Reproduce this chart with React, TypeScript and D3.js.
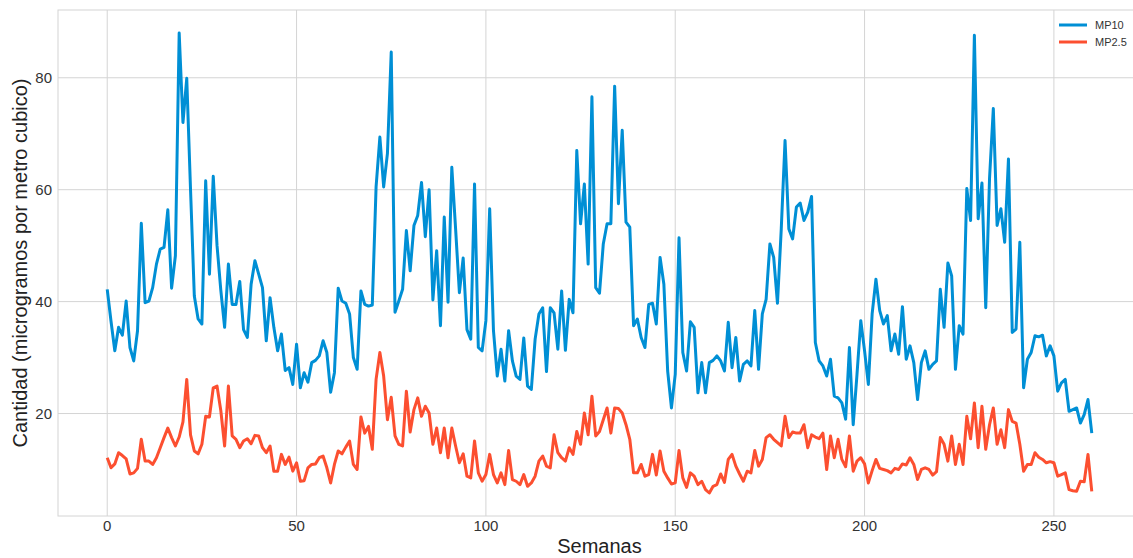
import * as d3 from 'd3';

const WIDTH = 1133;
const HEIGHT = 558;

// Weekly concentrations (weeks 0..260)
const mp10 = [
  42.2, 36.5, 31.2, 35.4, 34, 40.1, 31.8, 29.4, 34.8, 54,
  39.8, 40.1, 42.5, 46.7, 49.4, 49.7, 56.4, 42.4, 48.2, 88,
  72, 79.9, 60, 41, 36.9, 36, 61.6, 44.9, 62.4, 50,
  42, 35.4, 46.7, 39.5, 39.5, 43.6, 35, 33.6, 43.1, 47.3,
  44.9, 42.5, 33, 40.7, 35.4, 31.2, 34.2, 27.7, 28.2, 25.2,
  32.4, 24.6, 27.3, 25.6, 29.1, 29.5, 30.3, 33, 30.9, 23.8,
  27.3, 42.4, 40.1, 39.7, 37.8, 30, 27.9, 41.9, 39.5, 39.2,
  39.4, 60.5, 69.4, 60.5, 66.5, 84.6, 38.1, 40.1, 42.2, 52.7,
  45.5, 53.6, 55.4, 61.3, 51.6, 60, 40.3, 49.1, 35.7, 55.1,
  39.9, 64, 53, 41.6, 47.8, 35, 33.3, 61, 31.8, 31.2,
  36.6, 56.6, 34.8, 26.7, 31.5, 25.8, 34.8, 29.4, 26.7, 26.1,
  33.5, 24.9, 24.3, 33.3, 37.8, 38.9, 27.5, 38.9, 38, 31.5,
  41.9, 31.3, 40.4, 38, 67, 53.9, 61, 46.7, 76.6, 42.5,
  41.5, 50.3, 53.9, 53.9, 78.5, 57.5, 70.6, 54.2, 53.3, 35.7,
  36.9, 33.6, 31.8, 39.5, 39.7, 36, 47.9, 43.1, 27.6, 21,
  27, 51.4, 30.9, 27.6, 36.4, 35.4, 23.7, 29.1, 23.7, 29.1,
  29.5, 30.3, 29.4, 27.6, 36.3, 28.2, 33.6, 25.8, 28.8, 29.4,
  28.5, 38.4, 27.9, 37.8, 40.4, 50.3, 47.9, 39.7, 53, 68.8,
  53, 51.2, 56.9, 57.6, 54.5, 56, 58.8, 32.7, 29.4, 28.5,
  26.7, 29.7, 23.1, 22.8, 21.9, 19, 31.8, 18, 27, 36.6,
  31.2, 25.2, 37.8, 44, 38.4, 36, 37.5, 31.2, 34.2, 30.6,
  39.1, 29.7, 32.1, 29.1, 22.5, 29.1, 31.2, 27.9, 28.8, 29.4,
  42.2, 35.4, 46.9, 44.6, 27.9, 35.7, 34.2, 60.2, 54.5, 87.6,
  54.8, 61.2, 38.9, 62, 74.5, 53.6, 56.6, 50.6, 65.5, 34.5,
  35.1, 50.6, 24.6, 29.7, 30.9, 33.9, 33.7, 34, 30.3, 32.1,
  30.3, 24, 25.5, 26.1, 20.4, 20.7, 21, 18.3, 19.8, 22.5,
  16.5,
];

const mp25 = [
  12.1, 10.3, 11, 13, 12.5, 11.9, 9.2, 9.4, 10.2, 15.4,
  11.5, 11.5, 10.9, 12.1, 13.9, 15.7, 17.4, 15.7, 14.2, 15.8,
  18.5, 26.1, 16.2, 13.3, 12.8, 14.5, 19.5, 19.4, 24.6, 24.9,
  20.5, 14.2, 24.9, 16, 15.4, 13.9, 15.1, 15.5, 14.6, 16.1,
  16, 13.9, 13, 14.2, 9.7, 9.7, 12.7, 10.9, 12.2, 9.7,
  11.2, 7.9, 8, 10.3, 10.9, 11, 12.1, 12.4, 10.3, 7.6,
  10.9, 13.3, 12.8, 14, 15.1, 10.9, 10, 19.4, 16.5, 17.7,
  13.6, 26.1, 30.9, 26.7, 18.9, 22.9, 16, 14.5, 14.2, 24,
  16.7, 20.7, 22.8, 19.5, 21.3, 20.1, 14.5, 17.4, 13, 17.4,
  12.1, 17.4, 14.2, 11.2, 12.8, 8.8, 8.5, 15.1, 9.4, 7.9,
  9.1, 12.7, 9.1, 7.6, 9.4, 7.3, 13.4, 8.2, 7.9, 7.3,
  9.1, 7, 7.6, 8.8, 11.5, 12.4, 10.6, 10.3, 16.2, 13,
  12.1, 11.5, 13.9, 12.7, 16.8, 14.5, 20.1, 16.2, 23.1, 16,
  16.8, 18.9, 21, 16.5, 21, 20.9, 20.1, 18, 15.4, 9.4,
  9.4, 10.9, 8.8, 9.1, 12.7, 9, 13.3, 9.7, 8.5, 7.4,
  7.6, 13.4, 8.5, 6.8, 9.4, 8.8, 7.3, 7.9, 6.4, 5.8,
  7, 7.3, 9.2, 7.7, 11.8, 12.7, 10.6, 9.2, 7.9, 9.7,
  9.4, 13.4, 10.6, 11.8, 15.7, 16.2, 15.4, 14.8, 14.2, 19.5,
  15.7, 16.7, 16.5, 16.5, 18, 13.9, 16.2, 15.8, 15.5, 16.5,
  10, 16, 12.1, 15.4, 11.8, 10.5, 16, 9.7, 11.5, 12.1,
  11, 7.6, 9.8, 11.8, 10.2, 10, 9.8, 9.4, 10.2, 10,
  11, 10.8, 12.1, 10.9, 8.2, 10, 10.3, 10, 9, 9.6,
  15.7, 14.5, 11.5, 16, 10.9, 14.5, 10.9, 19.5, 15.5, 21.9,
  13.9, 21.3, 13.6, 18, 21, 14.5, 17.1, 13.9, 20.7, 18.6,
  18.3, 14.5, 9.7, 10.9, 10.9, 13, 12.2, 11.8, 11.2, 11.4,
  11.2, 8.8, 9.1, 9.4, 6.4, 6.2, 6.1, 7.9, 7.8, 12.7,
  6.1,
];

const xTicks = [0, 50, 100, 150, 200, 250];
const yTicks = [20, 40, 60, 80];

const SERIES = [
  { name: 'MP10', values: mp10, color: '#008fd5' },
  { name: 'MP2.5', values: mp25, color: '#fc4f30' },
];

const FONT = '"Liberation Sans", Arial, sans-serif';

// plot box (right edge falls just outside the picture, as in the original)
const left = 58;
const right = 1141;
const top = 10;
const bottom = 516;

export default function App() {
  const n = mp10.length;
  const xPad = (n - 1) * 0.05;
  const x = d3.scaleLinear().domain([-xPad, n - 1 + xPad]).range([left, right]);

  const all = [...mp10, ...mp25];
  const lo = d3.min(all) as number;
  const hi = d3.max(all) as number;
  const yPad = (hi - lo) * 0.05;
  const y = d3.scaleLinear().domain([lo - yPad, hi + yPad]).range([bottom, top]);

  const line = d3.line<number>()
    .x((_, i) => x(i))
    .y(d => y(d));

  return (
    <svg
      width={WIDTH}
      height={HEIGHT}
      style={{ position: 'absolute', left: 0, top: 0, background: '#fff' }}
      fontFamily={FONT}
    >
      <rect x={0} y={0} width={WIDTH} height={HEIGHT} fill="#fff" />

      {/* grid */}
      {xTicks.map(t => (
        <line key={'gx' + t} x1={x(t)} x2={x(t)} y1={top} y2={bottom} stroke="#d4d4d4" strokeWidth={1} />
      ))}
      {yTicks.map(t => (
        <line key={'gy' + t} x1={left} x2={right} y1={y(t)} y2={y(t)} stroke="#d4d4d4" strokeWidth={1} />
      ))}
      <rect x={left} y={top} width={right - left} height={bottom - top} fill="none" stroke="#d4d4d4" strokeWidth={1} />

      {/* series */}
      {SERIES.map(s => (
        <path
          key={s.name}
          d={line(s.values) ?? ''}
          fill="none"
          stroke={s.color}
          strokeWidth={3}
          strokeLinejoin="round"
        />
      ))}

      {/* tick labels */}
      {xTicks.map(t => (
        <text key={'tx' + t} x={x(t)} y={531} textAnchor="middle" fontSize={15} fill="#333">
          {t}
        </text>
      ))}
      {yTicks.map(t => (
        <text key={'ty' + t} x={52} y={y(t)} dy="0.35em" textAnchor="end" fontSize={15} fill="#333">
          {t}
        </text>
      ))}

      {/* axis titles */}
      <text x={(left + right) / 2} y={553} textAnchor="middle" fontSize={20} fill="#222">
        Semanas
      </text>
      <text
        transform={`translate(27,${(top + bottom) / 2}) rotate(-90)`}
        textAnchor="middle"
        fontSize={20}
        fill="#222"
      >
        Cantidad (microgramos por metro cubico)
      </text>

      {/* legend */}
      {SERIES.map((s, i) => (
        <g key={'lg' + s.name} transform={`translate(1059,${25 + i * 17})`}>
          <line x1={0} x2={28} y1={0} y2={0} stroke={s.color} strokeWidth={3} />
          <text x={36} y={0} dy="0.35em" fontSize={11} fill="#333">
            {s.name}
          </text>
        </g>
      ))}
    </svg>
  );
}
